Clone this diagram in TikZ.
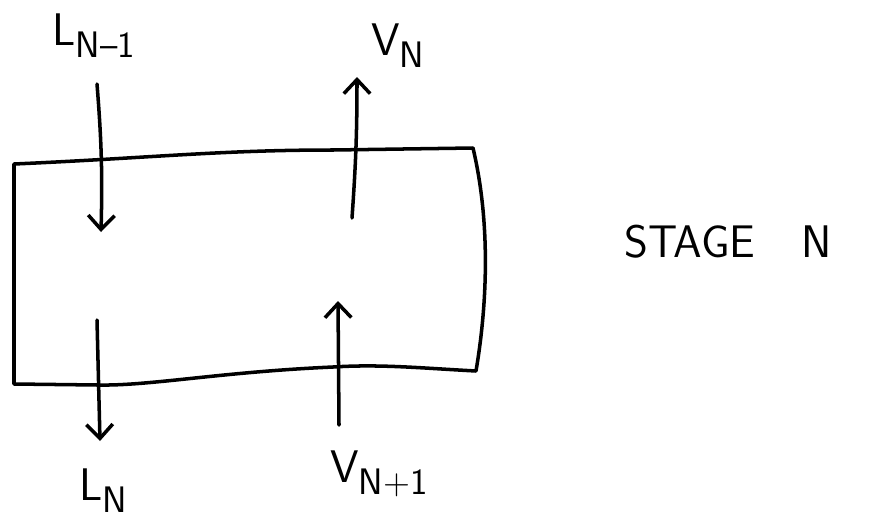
\documentclass[tikz,border=0pt]{standalone}
\usepackage{tikz}
\usetikzlibrary{arrows.meta}

\newcommand{\lowsub}[1]{\raisebox{-7pt}{\fontsize{21}{24}\selectfont #1}}

\begin{document}
\begin{tikzpicture}[
    x=0.02cm, y=-0.02cm,
    every node/.style={font=\sffamily\fontsize{26}{30}\selectfont, inner sep=0pt, anchor=base west},
    wall/.style={line width=2pt, line cap=round, line join=round},
    flow/.style={-{Straight Barb[length=8pt, width=15pt, line width=2pt]}, line width=2pt, line cap=round},
]
\useasboundingbox (0,0) rectangle (875,521);

% ---------- stage box (hand drawn, slightly wavy) ----------
\coordinate (tl) at (14,164);
\coordinate (tr) at (473,148);
\coordinate (br) at (476,371);
\coordinate (bl) at (14,384);
\draw[wall] (tl) .. controls (150,158) and (220,150) .. (333,150) -- (tr)
    .. controls (490,220) and (488,300) .. (br)
    .. controls (420,368) and (380,364) .. (333,367)
    .. controls (220,372) and (150,386) .. (98,385) -- (bl) -- cycle;

% ---------- liquid stream (down) ----------
\coordinate (lin) at (97,84);
\coordinate (linend) at (101,232);
\coordinate (lout) at (97,320);
\coordinate (loutend) at (100,441);
\draw[flow] (lin) to[bend left=3] (linend);
\draw[flow] (lout) -- (loutend);
\node (Lprev) at (52,45) {L\lowsub{N--1}};
\node (Lcur) at (79,500) {L\lowsub{N}};

% ---------- vapour stream (up) ----------
\coordinate (vout) at (352,218);
\coordinate (voutend) at (357,77);
\coordinate (vin) at (339,425);
\coordinate (vinend) at (338,301);
\draw[flow] (vout) to[bend right=2] (voutend);
\draw[flow] (vin) -- (vinend);
\node (Vcur) at (371,55) {V\lowsub{N}};
\node (Vnext) at (330,482) {V\lowsub{N+1}};

% ---------- stage label ----------
\node (stage) at (624,257) {STAGE\hspace{26pt}N};

\end{tikzpicture}
\end{document}
